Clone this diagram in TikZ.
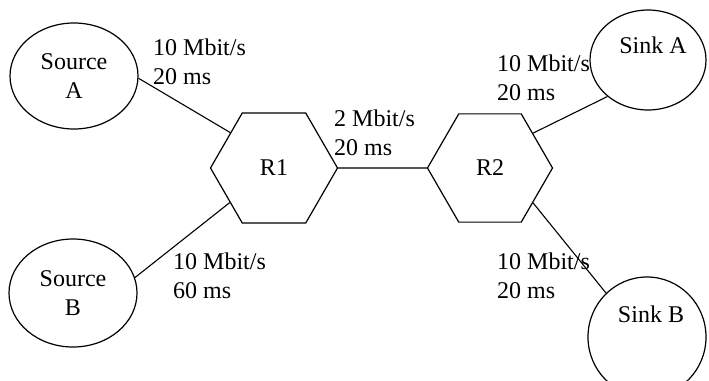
\documentclass[tikz,border=0pt]{standalone}
\usepackage{fontspec}
\setmainfont{Liberation Serif}
\usetikzlibrary{shapes.geometric}
\begin{document}
\begin{tikzpicture}[x=1pt,y=-1pt,
  every node/.style={font=\fontsize{24}{29}\selectfont},
  endpoint/.style={draw, ellipse, line width=1.2pt, inner sep=0pt, align=center},
  router/.style={draw, regular polygon, regular polygon sides=6, inner sep=0pt, line width=1.2pt},
  linklabel/.style={anchor=west, align=left, inner sep=0pt},
  plaintext/.style={inner sep=0pt, anchor=base},
  link/.style={line width=1.1pt}]
\useasboundingbox (0,0) rectangle (709,380);
% end systems
\node[endpoint, minimum width=128pt, minimum height=106pt] (srcA) at (74,76) {Source\\A};
\node[endpoint, minimum width=128pt, minimum height=108pt] (srcB) at (73,293) {Source\\B};
\node[endpoint, minimum width=116pt, minimum height=100pt] (sinkA) at (648,60) {};
\node[plaintext] (sinkAtxt) at (653,53) {Sink A};
\node[endpoint, minimum width=118pt, minimum height=120pt] (sinkB) at (647,337) {};
\node[plaintext] (sinkBtxt) at (651,322) {Sink B};
% routers
\node[router, minimum size=127pt] (r1) at (274,168) {R1};
\node[router, minimum size=125pt] (r2) at (490,168) {R2};
% links
\draw[link] (srcA.-2) -- (r1.141);
\draw[link] (r1.218) -- (srcB.14);
\draw[link] (r1.east) -- (r2.west);
\draw[link] (r2.39) -- (sinkA.222);
\draw[link] (r2.-39) -- (sinkB.133);
% link labels
\node[linklabel] (lA) at (153,62) {10 Mbit/s\\20 ms};
\node[linklabel] (lR) at (334,133) {2 Mbit/s\\20 ms};
\node[linklabel] (lSA) at (497,78) {10 Mbit/s\\20 ms};
\node[linklabel] (lB) at (173,276) {10 Mbit/s\\60 ms};
\node[linklabel] (lSB) at (497,276) {10 Mbit/s\\20 ms};
\end{tikzpicture}
\end{document}
